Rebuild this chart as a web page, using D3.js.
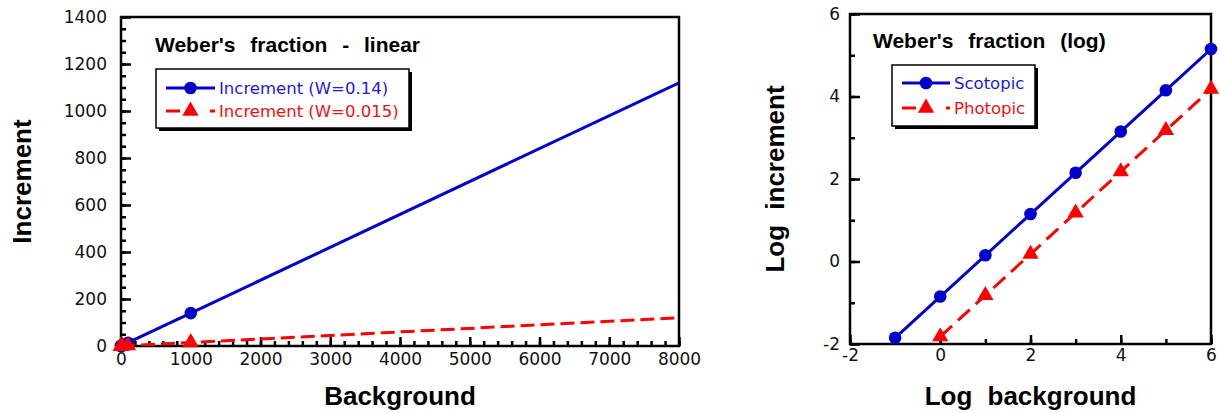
<!DOCTYPE html>
<html>
<head>
<meta charset="utf-8">
<script src="https://cdn.jsdelivr.net/npm/d3@7"></script>
<style>
  html, body { margin: 0; padding: 0; background: #fff; }
  svg { display: block; }
</style>
</head>
<body>
<svg id="chart" width="1220" height="413"></svg>
<script>
// linear panel data
var background = [0.1, 1, 10, 100, 1000, 10000];
var incScotopic = [0.014, 0.14, 1.4, 14, 140, 1400];
var incPhotopic = [0.0015, 0.015, 0.15, 1.5, 15, 150];

// log panel data
var logBackground = [-1, 0, 1, 2, 3, 4, 5, 6];
var logScotopic = [-1.85, -0.85, 0.15, 1.15, 2.15, 3.15, 4.15, 5.15];
var logPhotopic = [null, -1.82, -0.82, 0.18, 1.18, 2.18, 3.18, 4.18];

var linXTicks = d3.range(0, 8001, 1000);
var linXMinor = d3.range(0, 8001, 200);
var linYTicks = d3.range(0, 1401, 200);
var linYMinor = d3.range(0, 1401, 50);
var logTicks = [-2, 0, 2, 4, 6];
var logMinor = [-2, -1, 0, 1, 2, 3, 4, 5, 6];

var BLUE = "#0000cc", RED = "#ff0000";
var svg = d3.select("#chart");
var fmt = function (d) { return String(d); };

function triangle(s) {
  return d3.symbol().type(d3.symbolTriangle).size(s)();
}

function panel(opt) {
  var x = d3.scaleLinear().domain(opt.xDomain).range([opt.left, opt.right]);
  var y = d3.scaleLinear().domain(opt.yDomain).range([opt.bottom, opt.top]);
  var g = svg.append("g");

  g.append("clipPath").attr("id", opt.id + "clip")
    .append("rect")
    .attr("x", opt.left).attr("y", opt.top)
    .attr("width", opt.right - opt.left).attr("height", opt.bottom - opt.top);

  // minor ticks
  g.append("g").attr("transform", "translate(0," + opt.bottom + ")")
    .call(d3.axisBottom(x).tickValues(opt.xMinor).tickSize(-5).tickFormat(""))
    .call(function (a) { a.select(".domain").remove(); a.selectAll("line").attr("stroke-width", 2.5); });
  g.append("g").attr("transform", "translate(" + opt.left + ",0)")
    .call(d3.axisLeft(y).tickValues(opt.yMinor).tickSize(-5).tickFormat(""))
    .call(function (a) { a.select(".domain").remove(); a.selectAll("line").attr("stroke-width", 2.5); });

  // major ticks + labels
  g.append("g").attr("transform", "translate(0," + opt.bottom + ")")
    .call(d3.axisBottom(x).tickValues(opt.xTicks).tickSize(-9).tickPadding(opt.xPad).tickFormat(fmt))
    .call(function (a) {
      a.select(".domain").remove();
      a.selectAll("line").attr("stroke-width", 2.5);
      a.selectAll("text").attr("font-family", "DejaVu Sans").attr("font-size", 17).attr("fill", "#111");
    });
  g.append("g").attr("transform", "translate(" + opt.left + ",0)")
    .call(d3.axisLeft(y).tickValues(opt.yTicks).tickSize(-10).tickPadding(opt.yPad).tickFormat(fmt))
    .call(function (a) {
      a.select(".domain").remove();
      a.selectAll("line").attr("stroke-width", 2.5);
      a.selectAll("text").attr("font-family", "DejaVu Sans").attr("font-size", 17).attr("fill", "#111");
    });

  // frame
  g.append("rect")
    .attr("x", opt.left).attr("y", opt.top)
    .attr("width", opt.right - opt.left).attr("height", opt.bottom - opt.top)
    .attr("fill", "none").attr("stroke", "#000").attr("stroke-width", 2.5);

  // series
  opt.series.forEach(function (s) {
    var pts = opt.xs.map(function (v, i) { return [v, s.values[i]]; })
      .filter(function (p) { return p[1] != null; });
    var line = d3.line().x(function (p) { return x(p[0]); }).y(function (p) { return y(p[1]); });
    g.append("path").datum(pts)
      .attr("clip-path", "url(#" + opt.id + "clip)")
      .attr("d", line)
      .attr("fill", "none").attr("stroke", s.color).attr("stroke-width", 3)
      .attr("stroke-dasharray", s.dash || null);
    var inside = pts.filter(function (p) {
      return p[0] >= opt.xDomain[0] && p[0] <= opt.xDomain[1] && p[1] >= opt.yDomain[0] - 0.1 && p[1] <= opt.yDomain[1];
    });
    if (s.marker === "circle") {
      g.selectAll(null).data(inside).enter().append("circle")
        .attr("cx", function (p) { return x(p[0]); })
        .attr("cy", function (p) { return y(p[1]); })
        .attr("r", 6.3).attr("fill", s.color);
    } else {
      g.selectAll(null).data(inside).enter().append("path")
        .attr("d", triangle(115))
        .attr("transform", function (p) { return "translate(" + x(p[0]) + "," + y(p[1]) + ")"; })
        .attr("fill", s.color);
    }
  });

  // title
  g.append("text")
    .attr("x", opt.titleX).attr("y", opt.titleY)
    .attr("font-family", "Liberation Sans").attr("font-weight", "bold").attr("font-size", 21)
    .attr("word-spacing", 9)
    .text(opt.title);

  // legend
  var lg = opt.legend;
  g.append("rect").attr("x", lg.x + 3).attr("y", lg.y + 3).attr("width", lg.w).attr("height", lg.h).attr("fill", "#000");
  g.append("rect").attr("x", lg.x).attr("y", lg.y).attr("width", lg.w).attr("height", lg.h)
    .attr("fill", "#fff").attr("stroke", "#000").attr("stroke-width", 1.5);
  opt.series.forEach(function (s, i) {
    var yy = lg.y + lg.row0 + i * lg.rowGap;
    var x0 = lg.x + 10, x1 = x0 + lg.sample;
    g.append("line").attr("x1", x0).attr("x2", x1).attr("y1", yy).attr("y2", yy)
      .attr("stroke", s.color).attr("stroke-width", 3)
      .attr("stroke-dasharray", s.dash ? "14,30,6" : null);
    var mx = (x0 + x1) / 2;
    if (s.marker === "circle") {
      g.append("circle").attr("cx", mx).attr("cy", yy).attr("r", 6.3).attr("fill", s.color);
    } else {
      g.append("path").attr("d", triangle(115)).attr("transform", "translate(" + mx + "," + yy + ")").attr("fill", s.color);
    }
    g.append("text").attr("x", x1 + 4).attr("y", yy + 6)
      .attr("font-family", "DejaVu Sans").attr("font-size", 16.5).attr("fill", s.textColor)
      .text(s.label);
  });

  // axis labels
  g.append("text")
    .attr("x", (opt.left + opt.right) / 2).attr("y", 405)
    .attr("text-anchor", "middle")
    .attr("font-family", "Liberation Sans").attr("font-weight", "bold").attr("font-size", 26)
    .attr("word-spacing", 8)
    .text(opt.xLabel);
  g.append("text")
    .attr("transform", "translate(" + opt.yLabelX + "," + (opt.top + opt.bottom) / 2 + ") rotate(-90)")
    .attr("text-anchor", "middle")
    .attr("font-family", "Liberation Sans").attr("font-weight", "bold").attr("font-size", 26)
    .attr("word-spacing", 8)
    .text(opt.yLabel);
}

panel({
  id: "lin",
  left: 121, right: 679, top: 17, bottom: 346,
  xDomain: [0, 8000], yDomain: [0, 1400],
  xTicks: linXTicks, xMinor: linXMinor, yTicks: linYTicks, yMinor: linYMinor,
  xPad: 7, yPad: 14,
  xs: background,
  series: [
    {values: incScotopic, color: BLUE, textColor: "#1a1ae0", marker: "circle", label: "Increment (W=0.14)"},
    {values: incPhotopic, color: RED, textColor: "#f01010", marker: "triangle", dash: "14,6", label: "Increment (W=0.015)"}
  ],
  title: "Weber's fraction - linear", titleX: 155, titleY: 52,
  legend: {x: 156, y: 69, w: 253, h: 59, row0: 19, rowGap: 23, sample: 49},
  xLabel: "Background", yLabel: "Increment", yLabelX: 31
});

panel({
  id: "log",
  left: 850, right: 1211, top: 14, bottom: 344,
  xDomain: [-2, 6], yDomain: [-2, 6],
  xTicks: logTicks, xMinor: logMinor, yTicks: logTicks, yMinor: logMinor,
  xPad: 5, yPad: 10,
  xs: logBackground,
  series: [
    {values: logScotopic, color: BLUE, textColor: "#1a1ae0", marker: "circle", label: "Scotopic"},
    {values: logPhotopic, color: RED, textColor: "#f01010", marker: "triangle", dash: "16,8", label: "Photopic"}
  ],
  title: "Weber's fraction (log)", titleX: 873, titleY: 48,
  legend: {x: 892, y: 65, w: 143, h: 61, row0: 18, rowGap: 25, sample: 48},
  xLabel: "Log background", yLabel: "Log increment", yLabelX: 784
});
</script>
</body>
</html>
